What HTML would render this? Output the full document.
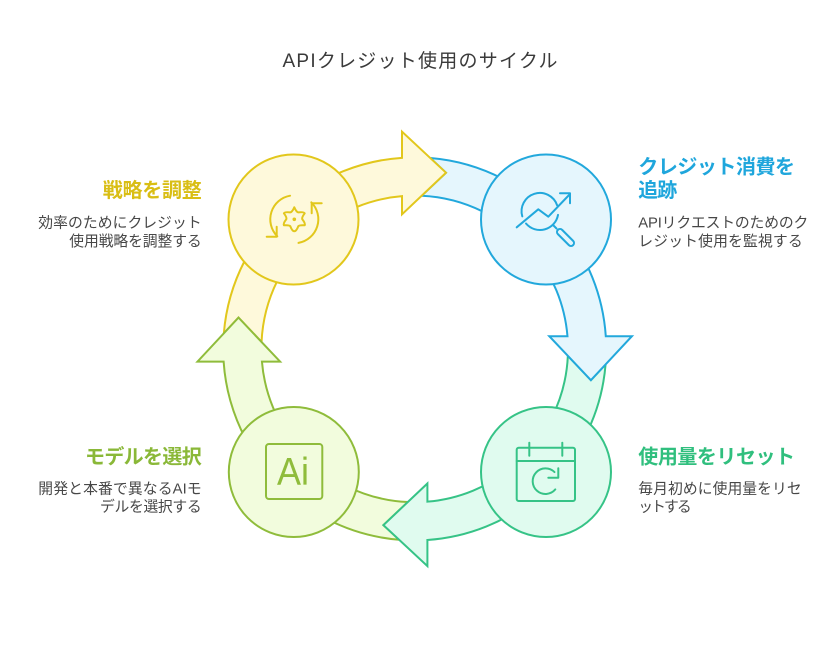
<!DOCTYPE html>
<html>
<head>
<meta charset="utf-8">
<style>
  html, body { margin: 0; padding: 0; background: #ffffff; }
  svg { display: block; }
  text { font-family: "Liberation Sans", "Noto Sans CJK JP", sans-serif; }
</style>
</head>
<body>
<svg width="840" height="651" viewBox="0 0 840 651" xmlns="http://www.w3.org/2000/svg">
  <rect width="840" height="651" fill="#ffffff"/>

  <!-- Title -->
  <text x="282.5" y="67" font-size="19" fill="#3a3a3a" textLength="275" lengthAdjust="spacing">APIクレジット使用のサイクル</text>

  <g transform="translate(414.7,348.9)" stroke-width="2" stroke-linejoin="miter">
    <!-- first halves -->
    <g transform="rotate(0)">
      <path d="M -190.87,-15.56 A 191.5 191.5 0 0 1 -123.09,-146.69 L -98.54,-117.43 A 153.3 153.3 0 0 0 -153.15,-6.92 L -176.2,-31.3 Z" fill="#FEF9DB" stroke="#E2C71C"/>
    </g>
    <g transform="rotate(90)">
      <path d="M -190.87,-15.56 A 191.5 191.5 0 0 1 -123.09,-146.69 L -98.54,-117.43 A 153.3 153.3 0 0 0 -153.15,-6.92 L -176.2,-31.3 Z" fill="#E5F6FD" stroke="#22A8DC"/>
    </g>
    <g transform="rotate(180)">
      <path d="M -190.87,-15.56 A 191.5 191.5 0 0 1 -123.09,-146.69 L -98.54,-117.43 A 153.3 153.3 0 0 0 -153.15,-6.92 L -176.2,-31.3 Z" fill="#E0FBEF" stroke="#36C387"/>
    </g>
    <g transform="rotate(270)">
      <path d="M -190.87,-15.56 A 191.5 191.5 0 0 1 -123.09,-146.69 L -98.54,-117.43 A 153.3 153.3 0 0 0 -153.15,-6.92 L -176.2,-31.3 Z" fill="#F2FCDD" stroke="#8FBC3B"/>
    </g>

    <!-- second halves with arrowheads -->
    <g transform="rotate(0)">
      <path d="M -123.09,-146.69 A 191.5 191.5 0 0 1 -12.7,-191.08 L -12.7,-217.2 L 31.3,-176.2 L -12.7,-134.6 L -12.7,-152.77 A 153.3 153.3 0 0 0 -98.54,-117.43 Z" fill="#FEF9DB" stroke="#E2C71C"/>
    </g>
    <g transform="rotate(90)">
      <path d="M -123.09,-146.69 A 191.5 191.5 0 0 1 -12.7,-191.08 L -12.7,-217.2 L 31.3,-176.2 L -12.7,-134.6 L -12.7,-152.77 A 153.3 153.3 0 0 0 -98.54,-117.43 Z" fill="#E5F6FD" stroke="#22A8DC"/>
    </g>
    <g transform="rotate(180)">
      <path d="M -123.09,-146.69 A 191.5 191.5 0 0 1 -12.7,-191.08 L -12.7,-217.2 L 31.3,-176.2 L -12.7,-134.6 L -12.7,-152.77 A 153.3 153.3 0 0 0 -98.54,-117.43 Z" fill="#E0FBEF" stroke="#36C387"/>
    </g>
    <g transform="rotate(270)">
      <path d="M -123.09,-146.69 A 191.5 191.5 0 0 1 -12.7,-191.08 L -12.7,-217.2 L 31.3,-176.2 L -12.7,-134.6 L -12.7,-152.77 A 153.3 153.3 0 0 0 -98.54,-117.43 Z" fill="#F2FCDD" stroke="#8FBC3B"/>
    </g>
  </g>

  <!-- Circles -->
  <circle cx="293.5" cy="219.5" r="65" fill="#FEF9DB" stroke="#E2C71C" stroke-width="2"/>
  <circle cx="546" cy="219.5" r="65" fill="#E5F6FD" stroke="#22A8DC" stroke-width="2"/>
  <circle cx="546" cy="472" r="65" fill="#E0FBEF" stroke="#36C387" stroke-width="2"/>
  <circle cx="293.8" cy="472" r="65" fill="#F2FCDD" stroke="#8FBC3B" stroke-width="2"/>

  <!-- Yellow icon: rotating arrows with flower -->
  <g fill="none" stroke="#E2C71C" stroke-width="2" stroke-linecap="round" stroke-linejoin="round">
    <path d="M 290.1,195.7 A 24 24 0 0 0 277.3,236.3"/>
    <path d="M 266.7,236.7 L 276.7,236.7 L 276.7,226.7"/>
    <path d="M 298.5,242.9 A 24 24 0 0 0 311.3,202.3"/>
    <path d="M 321.7,203.3 L 311.7,203.3 L 311.7,213.3"/>
    <path d="M 294.3,207.3 Q 296.5,212.2 298.3,212.4 Q 303.6,211.7 304.7,213.3 Q 301.5,217.5 302.3,219.3 Q 305.6,223.5 304.7,225.3 Q 299.5,224.9 298.3,226.2 Q 296.3,231.3 294.3,231.3 Q 292.3,231.3 290.3,226.2 Q 289.1,224.9 283.9,225.3 Q 283,223.5 286.3,219.3 Q 287.1,217.5 283.9,213.3 Q 285,211.7 290.3,212.4 Q 292.1,212.2 294.3,207.3 Z"/>
  </g>
  <circle cx="294.3" cy="219.3" r="1.8" fill="#E2C71C"/>

  <!-- Blue icon: magnifier with trend -->
  <g fill="none" stroke="#22A8DC" stroke-width="2" stroke-linecap="round" stroke-linejoin="round">
    <path d="M 557.2,205.4 A 18.3 18.3 0 0 0 522.3,216.4"/>
    <path d="M 526,223.5 A 18.3 18.3 0 0 0 558,214.9"/>
    <polyline points="516.7,227.3 538.3,209.3 548.3,216.7 570,194"/>
    <polyline points="560,193.3 570,193.3 570,203.3"/>
    <line x1="553" y1="225" x2="556.5" y2="228.5"/>
  </g>
  <line x1="560" y1="232" x2="571" y2="243" stroke="#22A8DC" stroke-width="8" stroke-linecap="round"/>
  <line x1="560" y1="232" x2="571" y2="243" stroke="#E5F6FD" stroke-width="4" stroke-linecap="round"/>

  <!-- Green icon: calendar with refresh -->
  <g fill="none" stroke="#36C387" stroke-width="2" stroke-linecap="round" stroke-linejoin="round">
    <rect x="516.7" y="447.7" width="58.3" height="53.3" rx="2"/>
    <line x1="516.7" y1="461" x2="575" y2="461"/>
    <line x1="529.3" y1="442.7" x2="529.3" y2="455.7"/>
    <line x1="562.3" y1="442.7" x2="562.3" y2="455.7"/>
    <path d="M 555.3,489.4 A 12.8 12.8 0 1 1 554.5,472.1"/>
    <polyline points="548.3,477.7 558.3,477.7 558.3,468.3"/>
  </g>

  <!-- Lime icon: Ai -->
  <rect x="266" y="444" width="56.3" height="55" rx="3" fill="none" stroke="#8FBC3B" stroke-width="2"/>
  <text x="277" y="485" font-size="39" fill="#8FBC3B" textLength="32" lengthAdjust="spacingAndGlyphs" style="font-family: 'DejaVu Sans ExtraLight','Liberation Sans',sans-serif; font-weight:200;">Ai</text>

  <!-- Yellow text -->
  <text x="102.7" y="197" font-size="20" font-weight="bold" fill="#D9BE14" textLength="99" lengthAdjust="spacing">戦略を調整</text>
  <text x="38.3" y="227.3" font-size="14.8" fill="#474747" textLength="163.4" lengthAdjust="spacing">効率のためにクレジット</text>
  <text x="69.3" y="246" font-size="14.8" fill="#474747" textLength="132.4" lengthAdjust="spacing">使用戦略を調整する</text>

  <!-- Blue text -->
  <text x="638.3" y="173.5" font-size="20" font-weight="bold" fill="#1FA6DC" textLength="156.7" lengthAdjust="spacing">クレジット消費を</text>
  <text x="638.3" y="197" font-size="20" font-weight="bold" fill="#1FA6DC" textLength="39" lengthAdjust="spacing">追跡</text>
  <text x="638.3" y="227.3" font-size="14.8" fill="#474747" textLength="170" lengthAdjust="spacing">APIリクエストのためのク</text>
  <text x="638.3" y="246" font-size="14.8" fill="#474747" textLength="164.4" lengthAdjust="spacing">レジット使用を監視する</text>

  <!-- Lime text -->
  <text x="85" y="463.3" font-size="20" font-weight="bold" fill="#8AB838" textLength="116.7" lengthAdjust="spacing">モデルを選択</text>
  <text x="38.3" y="493.3" font-size="14.8" fill="#474747" textLength="163.4" lengthAdjust="spacing">開発と本番で異なるAIモ</text>
  <text x="100" y="511.5" font-size="14.8" fill="#474747" textLength="101.7" lengthAdjust="spacing">デルを選択する</text>

  <!-- Green text -->
  <text x="638.3" y="463.3" font-size="20" font-weight="bold" fill="#30BF7E" textLength="156.7" lengthAdjust="spacing">使用量をリセット</text>
  <text x="638.3" y="493.3" font-size="14.8" fill="#474747" textLength="163.4" lengthAdjust="spacing">毎月初めに使用量をリセ</text>
  <text x="638.3" y="511.5" font-size="14.8" fill="#474747" textLength="53.4" lengthAdjust="spacing">ットする</text>
</svg>
</body>
</html>
